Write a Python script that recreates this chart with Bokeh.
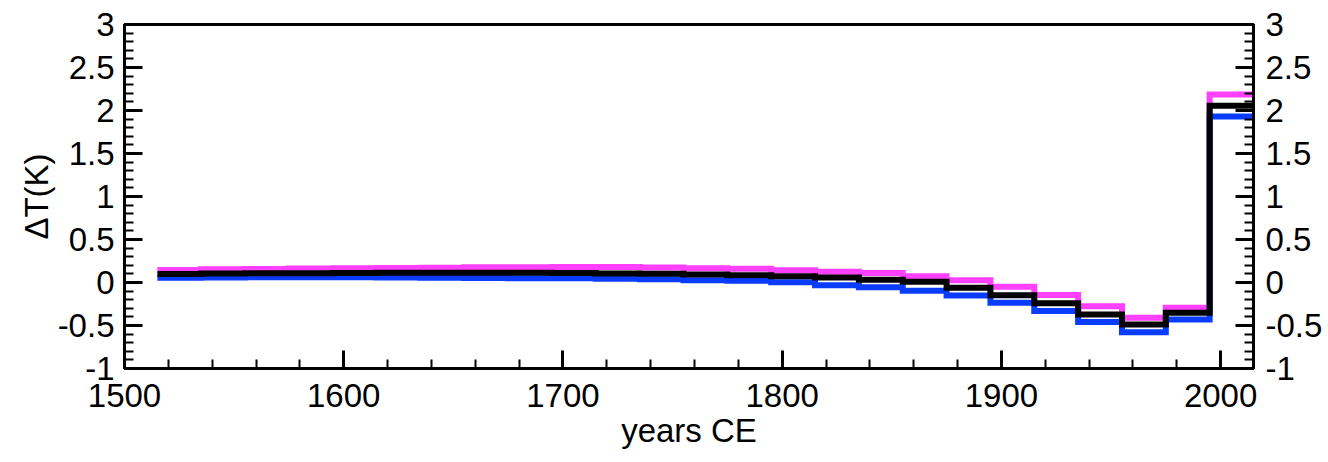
from bokeh.plotting import figure
from bokeh.models import LinearAxis, FixedTicker, NumeralTickFormatter, Range1d
from bokeh.embed import file_html
from bokeh.resources import INLINE

# 20-year bins (start year of each bin); last bin ends at 2015
bin_starts = [1515, 1535, 1555, 1575, 1595, 1615, 1635, 1655, 1675, 1695,
              1715, 1735, 1755, 1775, 1795, 1815, 1835, 1855, 1875, 1895,
              1915, 1935, 1955, 1975, 1995]
bin_end = 2015

magenta_vals = [0.145, 0.155, 0.158, 0.162, 0.165, 0.168, 0.172, 0.176, 0.178, 0.180,
                0.180, 0.174, 0.167, 0.159, 0.143, 0.124, 0.110, 0.074, 0.027, -0.050,
                -0.145, -0.275, -0.410, -0.295, 2.185]
black_vals = [0.100, 0.105, 0.107, 0.108, 0.110, 0.112, 0.113, 0.113, 0.112, 0.110,
              0.105, 0.101, 0.093, 0.085, 0.074, 0.058, 0.032, 0.008, -0.062, -0.147,
              -0.240, -0.372, -0.488, -0.353, 2.055]
blue_vals = [0.055, 0.058, 0.060, 0.060, 0.060, 0.058, 0.055, 0.052, 0.050, 0.048,
             0.045, 0.039, 0.027, 0.019, 0.004, -0.031, -0.054, -0.097, -0.151, -0.236,
             -0.330, -0.460, -0.578, -0.430, 1.930]

x_major = [1500, 1600, 1700, 1800, 1900, 2000]
y_major = [-1, -0.5, 0, 0.5, 1, 1.5, 2, 2.5, 3]

FONT = "Liberation Sans"
FS = "33px"

p = figure(width=1328, height=462,
           x_range=Range1d(1500, 2015), y_range=Range1d(-1, 3),
           output_backend="svg", toolbar_location=None,
           min_border_left=124, min_border_right=75,
           min_border_top=24, min_border_bottom=94)

p.xgrid.visible = False
p.ygrid.visible = False
p.outline_line_color = "black"
p.outline_line_width = 3
p.background_fill_color = "white"
p.border_fill_color = "white"

xs = bin_starts + [bin_end]
for vals, col, lw in [(magenta_vals, "#FF40FF", 6),
                      (blue_vals, "#0A3CFF", 6),
                      (black_vals, "black", 6)]:
    p.step(xs, vals + [vals[-1]], mode="after", line_color=col,
           line_width=lw, line_join="miter")

x_ticker = FixedTicker(ticks=x_major, minor_ticks=list(range(1500, 2016, 20)))
y_ticker = FixedTicker(ticks=y_major, minor_ticks=[round(-1 + 0.1 * i, 1) for i in range(41)])


def style_axis(ax):
    ax.axis_line_width = 3
    ax.axis_line_color = "black"
    ax.major_tick_in = 18
    ax.major_tick_out = 0
    ax.minor_tick_in = 9
    ax.minor_tick_out = 0
    ax.major_tick_line_width = 3
    ax.minor_tick_line_width = 2
    ax.major_tick_line_color = "black"
    ax.minor_tick_line_color = "black"
    ax.major_label_text_font = FONT
    ax.major_label_text_font_size = FS
    ax.major_label_text_color = "black"
    ax.major_label_standoff = 10
    ax.axis_label_text_font = FONT
    ax.axis_label_text_font_size = FS
    ax.axis_label_text_font_style = "normal"
    ax.axis_label_text_color = "black"


xa = p.xaxis[0]
xa.ticker = x_ticker
xa.formatter = NumeralTickFormatter(format="0")
xa.axis_label = "years CE"
style_axis(xa)
xa.major_label_standoff = 15
xa.axis_label_standoff = 2

ya = p.yaxis[0]
ya.ticker = y_ticker
ya.formatter = NumeralTickFormatter(format="0.[0]")
ya.axis_label = "ΔT(K)"
style_axis(ya)
ya.axis_label_standoff = 0

ra = LinearAxis(ticker=y_ticker, formatter=NumeralTickFormatter(format="0.[0]"))
style_axis(ra)
ra.major_label_standoff = 12
p.add_layout(ra, "right")

open("out.html", "w").write(file_html(p, INLINE))
